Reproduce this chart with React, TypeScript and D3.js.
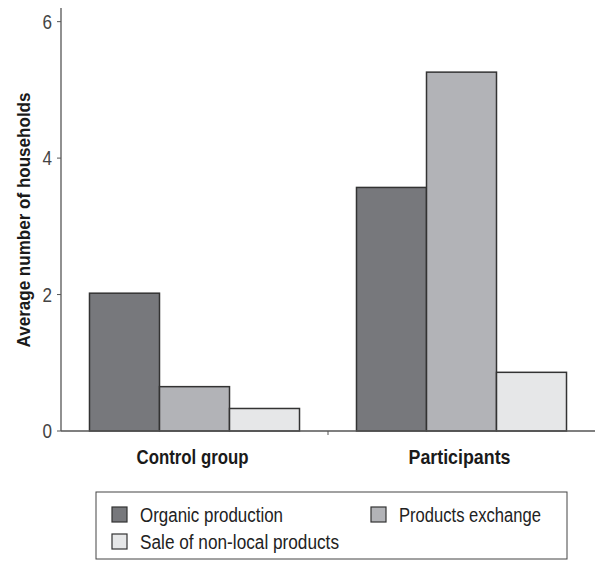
import React from 'react';
import * as d3 from 'd3';

const categories = ['Control group', 'Participants'];
const seriesNames = ['Organic production', 'Products exchange', 'Sale of non-local products'];
const organic = [2.02, 3.57];
const exchange = [0.65, 5.26];
const saleNonLocal = [0.33, 0.86];
const yTicks = [0, 2, 4, 6];

const colors = ['#77787c', '#b2b3b7', '#e6e7e8'];
const font = '"Liberation Sans", Arial, sans-serif';

// condensed look: stretch text to the widths measured on the reference
const categoryWidths = [112, 102];
const legendWidths = [143, 142, 199];

export default function App() {
  const width = 595;
  const height = 561;
  const left = 61;
  const right = 595;
  const bottom = 431;
  const top = 8;

  const values = [organic, exchange, saleNonLocal];

  const x0 = d3.scaleBand().domain(categories).range([left, right]).padding(0);
  const x1 = d3
    .scaleBand()
    .domain(seriesNames)
    .range([0, x0.bandwidth()])
    .paddingInner(0)
    .paddingOuter(0.407);
  const y = d3.scaleLinear().domain([0, 6.2]).range([bottom, top]);

  const boundaries = categories.slice(1).map(c => x0(c));

  return (
    <svg width={width} height={height} style={{ position: 'absolute', left: 0, top: 0 }}>
      <rect width={width} height={height} fill="#fff" />
      {categories.map((c, ci) => (
        <g key={c} transform={`translate(${x0(c)},0)`}>
          {seriesNames.map((s, si) => (
            <rect
              key={s}
              x={x1(s)}
              y={y(values[si][ci])}
              width={x1.bandwidth()}
              height={bottom - y(values[si][ci])}
              fill={colors[si]}
              stroke="#333"
              strokeWidth={1.5}
            />
          ))}
        </g>
      ))}

      {/* axes */}
      <line x1={left} x2={left} y1={top} y2={bottom} stroke="#555" strokeWidth={1.3} />
      <line x1={left} x2={right} y1={bottom} y2={bottom} stroke="#555" strokeWidth={1.3} />
      {boundaries.map((b, i) => (
        <line key={i} x1={b} x2={b} y1={bottom} y2={bottom + 4} stroke="#555" strokeWidth={1} />
      ))}
      {yTicks.map(t => (
        <g key={t} transform={`translate(0,${y(t)})`}>
          <line x1={left - 4} x2={left} stroke="#555" strokeWidth={1} />
          <text
            x={52}
            dy="0.36em"
            textAnchor="end"
            fontFamily={font}
            fontSize={20}
            fill="#444"
            textLength={9.5}
            lengthAdjust="spacingAndGlyphs"
          >
            {t}
          </text>
        </g>
      ))}
      {categories.map((c, i) => (
        <text
          key={c}
          x={x0(c) + x0.bandwidth() / 2 - 2}
          y={464}
          textAnchor="middle"
          fontFamily={font}
          fontWeight="bold"
          fontSize={21}
          fill="#1a1a1a"
          textLength={categoryWidths[i]}
          lengthAdjust="spacingAndGlyphs"
        >
          {c}
        </text>
      ))}
      <text
        transform={`translate(30,${220}) rotate(-90)`}
        textAnchor="middle"
        fontFamily={font}
        fontWeight="bold"
        fontSize={19}
        fill="#1a1a1a"
        textLength={255}
        lengthAdjust="spacingAndGlyphs"
      >
        Average number of households
      </text>

      {/* legend */}
      <rect x={96} y={492} width={471} height={67} fill="#fff" stroke="#444" strokeWidth={1} />
      {seriesNames.map((s, i) => {
        const lx = i === 1 ? 371 : 112;
        const ly = i === 2 ? 534 : 507;
        return (
          <g key={s} transform={`translate(${lx},${ly})`}>
            <rect width={15} height={15} fill={colors[i]} stroke="#333" strokeWidth={1.2} />
            <text
              x={28}
              y={15}
              fontFamily={font}
              fontSize={20}
              fill="#222"
              textLength={legendWidths[i]}
              lengthAdjust="spacingAndGlyphs"
            >
              {s}
            </text>
          </g>
        );
      })}
    </svg>
  );
}
